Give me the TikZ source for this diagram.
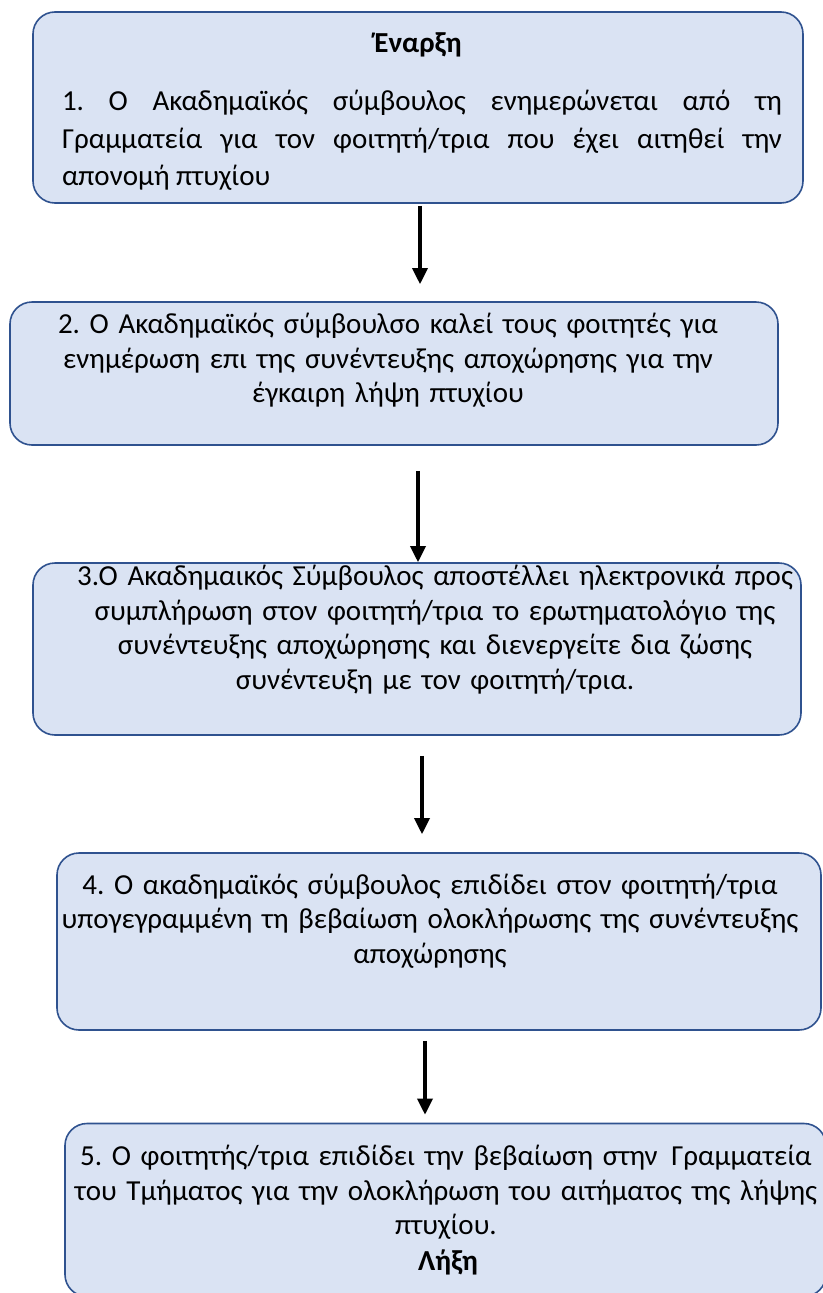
\documentclass[tikz,border=0pt]{standalone}
\usepackage{fontspec}
\setmainfont{Carlito}
\usetikzlibrary{arrows.meta}
\definecolor{boxfill}{HTML}{DAE3F3}
\definecolor{boxline}{HTML}{2F528F}
\frenchspacing

\begin{document}
\begin{tikzpicture}[x=1pt,y=-1pt]
                \useasboundingbox (0,0) rectangle (822,1293);
                \begin{scope}[every node/.style={draw=boxline,fill=boxfill,line width=1.6pt,rounded corners=22pt,inner sep=0}]
                        \node[minimum width=770pt,minimum height=191pt] (B1) at (418,107.5) {};
                        \node[minimum width=768pt,minimum height=143pt] (B2) at (394,373.5) {};
                        \node[minimum width=768pt,minimum height=172pt] (B3) at (417,649) {};
                        \node[minimum width=764pt,minimum height=177pt] (B4) at (439,941.5) {};
                        \node[minimum width=761pt,minimum height=173pt] (B5) at (445.5,1210) {};
                \end{scope}
                \begin{scope}[every node/.style={inner sep=0,font=\fontsize{29}{34.5}\selectfont}]
                        \node (S) at (418,45) {\textbf{Έναρξη}};
                        \node[text width=720pt,align=justify,font=\fontsize{29}{37.5}\selectfont] (T1) at (422,140.5) {1. Ο Ακαδημαϊκός σύμβουλος ενημερώνεται από τη Γραμματεία για τον φοιτητή/τρια που έχει αιτηθεί την απονομή πτυχίου};
                        \node[text width=800pt,align=center] (T2) at (388,360.5) {2. Ο Ακαδημαϊκός σύμβουλσο καλεί τους φοιτητές για\\ενημέρωση επι της συνέντευξης αποχώρησης για την\\έγκαιρη λήψη πτυχίου};
                        \node[text width=800pt,align=center] (T3) at (435,629.5) {3.Ο Ακαδημαικός Σύμβουλος αποστέλλει ηλεκτρονικά προς\\συμπλήρωση στον φοιτητή/τρια το ερωτηματολόγιο της\\συνέντευξης αποχώρησης και διενεργείτε δια ζώσης\\συνέντευξη με τον φοιτητή/τρια.};
                        \node[text width=800pt,align=center] (T4) at (430,921) {4. Ο ακαδημαϊκός σύμβουλος επιδίδει στον φοιτητή/τρια\\υπογεγραμμένη τη βεβαίωση ολοκλήρωσης της συνέντευξης\\αποχώρησης};
                        \node[text width=800pt,align=center] (T5) at (446,1192.5) {5. Ο φοιτητής/τρια επιδίδει την βεβαίωση στην\hspace{4pt} Γραμματεία\\του Τμήματος για την ολοκλήρωση του αιτήματος της λήψης\\πτυχίου.};
                        \node (E) at (448,1262) {\textbf{Λήξη}};
                \end{scope}
                \begin{scope}[every path/.style={line width=3.4pt,-{Triangle[length=16pt,width=15pt]}}]
                        \path[draw,shorten <=2pt,shorten >=17pt] ([xshift=2pt]B1.south) -- ([xshift=26pt]B2.north);
                        \path[draw,shorten <=25pt,shorten >=0pt] ([xshift=24pt]B2.south) -- ([xshift=1pt]B3.north);
                        \path[draw,shorten <=20pt,shorten >=18pt] ([xshift=5pt]B3.south) -- ([xshift=-17pt]B4.north);
                        \path[draw,shorten <=10pt,shorten >=8pt] ([xshift=-14pt]B4.south) -- ([xshift=-20.5pt]B5.north);
                \end{scope}
\end{tikzpicture}
\end{document}
